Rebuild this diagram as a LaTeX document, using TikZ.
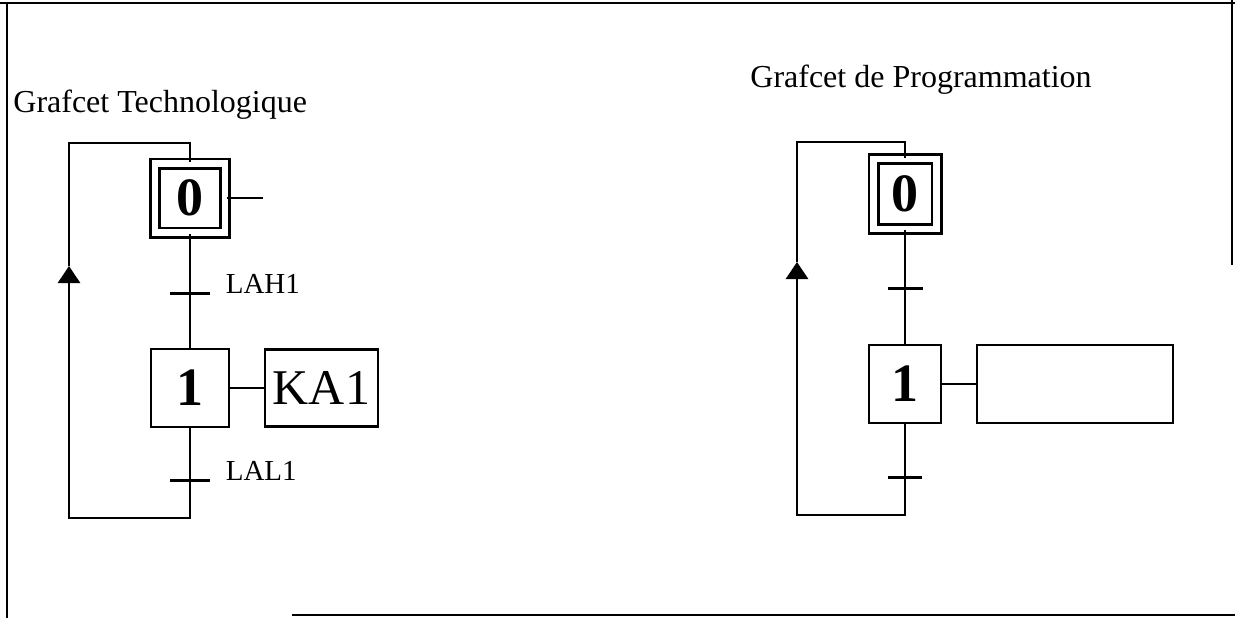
\documentclass[tikz,border=0pt]{standalone}
\usepackage{fontspec}
\setmainfont{Liberation Serif}
\usetikzlibrary{positioning,arrows.meta,calc}

\tikzset{
  etape/.style={draw, line width=1.4pt, inner sep=0pt, font=\fontsize{27}{27}\selectfont\bfseries},
  etapeinit/.style={etape, double, double distance=3.2pt},
  action/.style={draw, line width=1.4pt, inner sep=0pt, font=\fontsize{25}{25}\selectfont},
  trans/.style={fill=black, inner sep=0pt, minimum height=1.5pt},
  cond/.style={anchor=base west, inner sep=0pt, font=\fontsize{14.5}{14.5}\selectfont},
  titre/.style={anchor=base west, inner sep=0pt, font=\fontsize{16}{16}\selectfont},
  link/.style={line width=1.4pt},
  retour/.style={link, -{Triangle[width=11pt,length=8.5pt]}},
  cadre/.style={line width=1pt}
}

\begin{document}
\begin{tikzpicture}[x=0.5pt,y=-0.5pt]
\useasboundingbox (0,0) rectangle (1235,618);
% cadre
\draw[cadre] (0,3) -- (1235,3);
\draw[cadre] (7,3) -- (7,618);
\draw[cadre] (1232,0) -- (1232,265);
\draw[cadre] (292,615) -- (1235,615);

\node[titre] (titreT) at (13,112) {Grafcet Technologique};
\node[titre] (titreP) at (750,87) {Grafcet de Programmation};

% grafcet technologique
\node[etapeinit, minimum width=35.25pt, minimum height=34.5pt] (e0) at (190,198) {0};
\node[trans, minimum width=20pt] (t01) at (190,293) {};
\node[cond] (c01) at ([xshift=7.5pt]t01.east) {LAH1};
\node[etape, minimum size=39pt] (e1) at (190,388) {1};
\node[action, minimum width=56.5pt, minimum height=38.5pt] (a1) at (321.5,388) {KA1};
\node[trans, minimum width=20pt] (t10) at (190,480) {};
\node[cond] (c10) at ([xshift=7.5pt]t10.east) {LAL1};
\coordinate (a0) at (263,198);
\coordinate (bg) at (69,518);
\coordinate (fg) at (69,266);
\coordinate (hg) at (69,143);

\draw[link] (e0) -- (a0);
\draw[link] (e0) -- (t01.center) -- (e1);
\draw[link] (e1) -- (a1);
\draw[retour] (e1) -- (t10.center) |- (bg) -- (fg);
\draw[link] (fg) -- (hg) -| (e0);

% grafcet de programmation
\node[etapeinit, minimum width=31.5pt, minimum height=35pt] (p0) at (905,194) {0};
\node[trans, minimum width=17.5pt] (q01) at (905,288) {};
\node[etape, minimum width=36pt, minimum height=39pt] (p1) at (905,384) {1};
\node[action, minimum width=98pt, minimum height=39pt] (b1) at (1075,384) {};
\node[trans, minimum width=17pt] (q10) at (905,477) {};
\coordinate (bd) at (797,515);
\coordinate (fd) at (797,262);
\coordinate (hd) at (797,142);

\draw[link] (p0) -- (q01.center) -- (p1);
\draw[link] (p1) -- (b1);
\draw[retour] (p1) -- (q10.center) |- (bd) -- (fd);
\draw[link] (fd) -- (hd) -| (p0);
\end{tikzpicture}
\end{document}
